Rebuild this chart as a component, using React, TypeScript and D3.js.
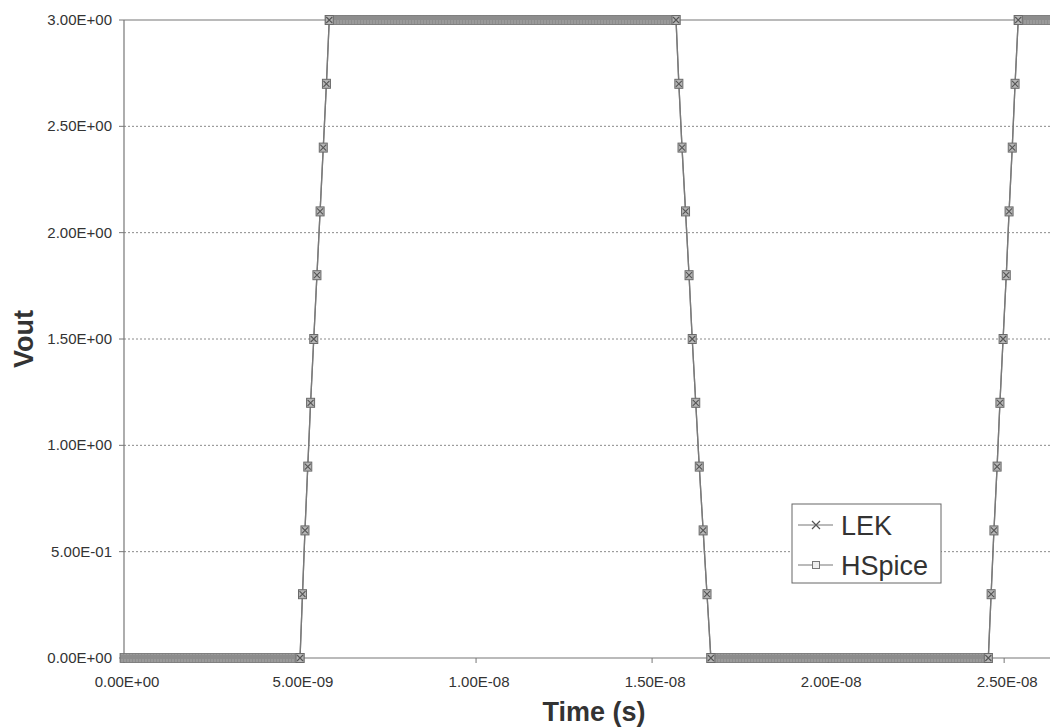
import * as d3 from 'd3'

// sample times in ns (edges only; flat parts are dense samples)
const timeNs = [
  0,
  5.0, 5.07, 5.14, 5.22, 5.3, 5.39, 5.48, 5.57, 5.66, 5.75, 5.83,
  15.68, 15.76, 15.85, 15.95, 16.05, 16.14, 16.24, 16.34, 16.45, 16.56, 16.67,
  24.55, 24.63, 24.71, 24.8, 24.88, 24.97, 25.06, 25.14, 25.23, 25.31, 25.4,
  26.7,
]
const lekVout = [
  0,
  0, 0.3, 0.6, 0.9, 1.2, 1.5, 1.8, 2.1, 2.4, 2.7, 3.0,
  3.0, 2.7, 2.4, 2.1, 1.8, 1.5, 1.2, 0.9, 0.6, 0.3, 0,
  0, 0.3, 0.6, 0.9, 1.2, 1.5, 1.8, 2.1, 2.4, 2.7, 3.0,
  3.0,
]
const hspiceVout = [
  0,
  0, 0.3, 0.6, 0.9, 1.2, 1.5, 1.8, 2.1, 2.4, 2.7, 3.0,
  3.0, 2.7, 2.4, 2.1, 1.8, 1.5, 1.2, 0.9, 0.6, 0.3, 0,
  0, 0.3, 0.6, 0.9, 1.2, 1.5, 1.8, 2.1, 2.4, 2.7, 3.0,
  3.0,
]
const xTicks = [0, 5e-9, 1e-8, 1.5e-8, 2e-8, 2.5e-8]
const xTickLabels = ['0.00E+00', '5.00E-09', '1.00E-08', '1.50E-08', '2.00E-08', '2.50E-08']
const yTicks = [0, 0.5, 1, 1.5, 2, 2.5, 3]
const yTickLabels = ['0.00E+00', '5.00E-01', '1.00E+00', '1.50E+00', '2.00E+00', '2.50E+00', '3.00E+00']
const seriesNames = ['LEK', 'HSpice']

const W = 1050
const H = 728
const margin = { top: 20, right: -14, bottom: 70, left: 124 }
const FONT = '"Liberation Sans", Arial, sans-serif'
const AXIS = '#777'

export default function App() {
  const x = d3.scaleLinear().domain([0, 2.67e-8]).range([margin.left, W - margin.right])
  const y = d3.scaleLinear().domain([0, 3]).range([H - margin.bottom, margin.top])

  const pts = timeNs.map((t, i) => ({ t: t * 1e-9, lek: lekVout[i], hs: hspiceVout[i] }))
  const line = d3.line<{ t: number; v: number }>().x(d => x(d.t)).y(d => y(d.v))

  // flat stretches are drawn as the dense band of overlapping markers
  const bands = pts.slice(0, -1)
    .map((p, i) => ({ a: p, b: pts[i + 1] }))
    .filter(s => s.a.hs === s.b.hs)
  const edgePts = pts.filter((p, i) => i > 0 && i < pts.length - 1)

  const x0 = x(0)
  const y0 = y(0)

  return (
    <svg width={W} height={H} style={{ position: 'absolute', left: 0, top: 0, background: '#fff' }}>
      <defs>
        <pattern id="dense" width="3" height="9" patternUnits="userSpaceOnUse">
          <rect width="3" height="9" fill="#8d8d8d" />
          <rect x="1.5" y="2" width="1" height="5" fill="#a8a8a8" />
        </pattern>
      </defs>

      {/* gridlines */}
      {yTicks.slice(1, -1).map(v => (
        <line key={v} x1={x0} x2={W} y1={y(v)} y2={y(v)} stroke="#8a8a8a" strokeDasharray="2,2" />
      ))}
      <line x1={x0} x2={W} y1={y(3)} y2={y(3)} stroke={AXIS} strokeWidth={1.2} />

      {/* axes */}
      <line x1={x0} x2={x0} y1={y(3)} y2={y0} stroke={AXIS} strokeWidth={1.2} />
      <line x1={x0} x2={W} y1={y0} y2={y0} stroke={AXIS} strokeWidth={1.2} />
      {yTicks.map((v, i) => (
        <g key={v}>
          <line x1={x0 - 5} x2={x0} y1={y(v)} y2={y(v)} stroke={AXIS} />
          <text x={x0 - 12} y={y(v) + 5} textAnchor="end" fontFamily={FONT} fontSize={15} fill="#333">
            {yTickLabels[i]}
          </text>
        </g>
      ))}
      {xTicks.map((v, i) => (
        <g key={v}>
          <line x1={x(v)} x2={x(v)} y1={y0} y2={y0 + 5} stroke={AXIS} />
          <text x={x(v) + 3} y={y0 + 29} textAnchor="middle" fontFamily={FONT} fontSize={15} fill="#333">
            {xTickLabels[i]}
          </text>
        </g>
      ))}

      {/* series lines */}
      <path d={line(pts.map(p => ({ t: p.t, v: p.hs }))) || ''} fill="none" stroke="#7a7a7a" strokeWidth={1.3} />
      <path d={line(pts.map(p => ({ t: p.t, v: p.lek }))) || ''} fill="none" stroke="#7a7a7a" strokeWidth={1.3} />

      {/* dense sample bands */}
      {bands.map((s, i) => (
        <rect key={i} x={x(s.a.t) - 4} y={y(s.a.hs) - 4.5} width={Math.max(0, x(s.b.t) - x(s.a.t) + 8)} height={9}
          fill="url(#dense)" stroke="#6e6e6e" strokeWidth={0.8} />
      ))}

      {/* markers on edges */}
      {edgePts.map((p, i) => (
        <g key={i}>
          <rect x={x(p.t) - 4} y={y(p.hs) - 4.5} width={8} height={9} fill="#b5b5b5" stroke="#6a6a6a" strokeWidth={1} />
          <path d={`M${x(p.t) - 3},${y(p.lek) - 3}L${x(p.t) + 3},${y(p.lek) + 3}M${x(p.t) - 3},${y(p.lek) + 3}L${x(p.t) + 3},${y(p.lek) - 3}`}
            stroke="#555" strokeWidth={1.1} />
        </g>
      ))}

      {/* axis titles */}
      <text x={594} y={721} textAnchor="middle" fontFamily={FONT} fontWeight="bold" fontSize={27} fill="#333">Time (s)</text>
      <text transform={`translate(33,${(y(0) + y(3)) / 2}) rotate(-90)`} textAnchor="middle" fontFamily={FONT}
        fontWeight="bold" fontSize={27} fill="#333">Vout</text>

      {/* legend */}
      <g>
        <rect x={792} y={504} width={149} height={79} fill="#fff" stroke="#666" strokeWidth={1} />
        {seriesNames.map((name, i) => {
          const ly = 525 + i * 40
          return (
            <g key={name}>
              <line x1={798} x2={833} y1={ly} y2={ly} stroke="#777" strokeWidth={1.2} />
              {i === 0 ? (
                <path d={`M812,${ly - 4}L820,${ly + 4}M812,${ly + 4}L820,${ly - 4}`} stroke="#555" strokeWidth={1.2} />
              ) : (
                <rect x={812.5} y={ly - 3.5} width={7} height={7} fill="#eee" stroke="#777" />
              )}
              <text x={841} y={ly + 10} fontFamily={FONT} fontSize={27} fill="#333">{name}</text>
            </g>
          )
        })}
      </g>
    </svg>
  )
}
